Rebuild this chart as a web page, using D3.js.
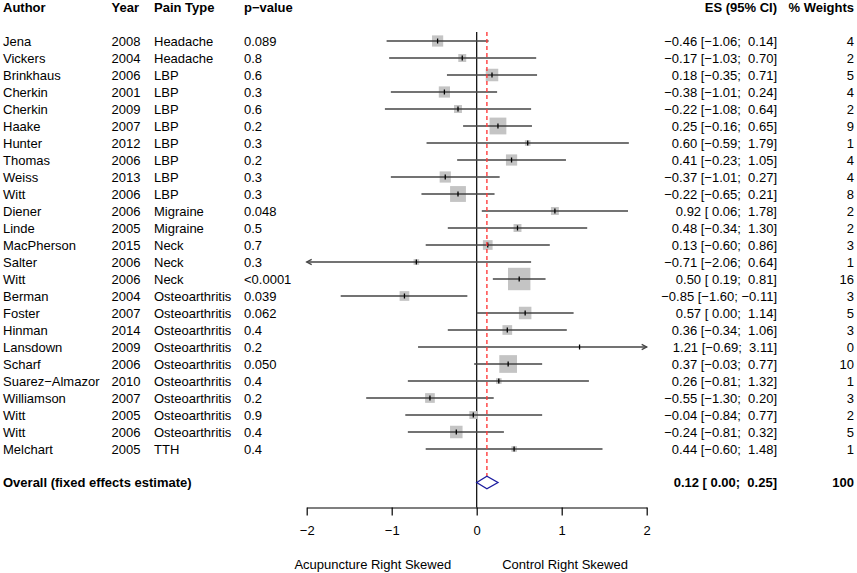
<!DOCTYPE html>
<html>
<head>
<meta charset="utf-8">
<script src="https://cdn.jsdelivr.net/npm/d3@7"></script>
<style>
  body { margin: 0; background: #fff; }
  svg text { font-family: "Liberation Sans", Arial, sans-serif; font-size: 13px; fill: #000; white-space: pre; }
</style>
</head>
<body>
<svg id="chart" width="857" height="573"></svg>
<script>
const authors = ['Jena', 'Vickers', 'Brinkhaus', 'Cherkin', 'Cherkin', 'Haake', 'Hunter', 'Thomas', 'Weiss', 'Witt',
  'Diener', 'Linde', 'MacPherson', 'Salter', 'Witt', 'Berman', 'Foster', 'Hinman', 'Lansdown', 'Scharf',
  'Suarez\u2212Almazor', 'Williamson', 'Witt', 'Witt', 'Melchart'];
const years = [2008, 2004, 2006, 2001, 2009, 2007, 2012, 2006, 2013, 2006,
  2006, 2005, 2015, 2006, 2006, 2004, 2007, 2014, 2009, 2006,
  2010, 2007, 2005, 2006, 2005];
const painTypes = ['Headache', 'Headache', 'LBP', 'LBP', 'LBP', 'LBP', 'LBP', 'LBP', 'LBP', 'LBP',
  'Migraine', 'Migraine', 'Neck', 'Neck', 'Neck', 'Osteoarthritis', 'Osteoarthritis', 'Osteoarthritis',
  'Osteoarthritis', 'Osteoarthritis', 'Osteoarthritis', 'Osteoarthritis', 'Osteoarthritis', 'Osteoarthritis', 'TTH'];
const pValues = ['0.089', '0.8', '0.6', '0.3', '0.6', '0.2', '0.3', '0.2', '0.3', '0.3',
  '0.048', '0.5', '0.7', '0.3', '<0.0001', '0.039', '0.062', '0.4', '0.2', '0.050',
  '0.4', '0.2', '0.9', '0.4', '0.4'];
const es = [-0.46, -0.17, 0.18, -0.38, -0.22, 0.25, 0.60, 0.41, -0.37, -0.22,
  0.92, 0.48, 0.13, -0.71, 0.50, -0.85, 0.57, 0.36, 1.21, 0.37,
  0.26, -0.55, -0.04, -0.24, 0.44];
const lower = [-1.06, -1.03, -0.35, -1.01, -1.08, -0.16, -0.59, -0.23, -1.01, -0.65,
  0.06, -0.34, -0.60, -2.06, 0.19, -1.60, 0.00, -0.34, -0.69, -0.03,
  -0.81, -1.30, -0.84, -0.81, -0.60];
const upper = [0.14, 0.70, 0.71, 0.24, 0.64, 0.65, 1.79, 1.05, 0.27, 0.21,
  1.78, 1.30, 0.86, 0.64, 0.81, -0.11, 1.14, 1.06, 3.11, 0.77,
  1.32, 0.20, 0.77, 0.32, 1.48];
const weights = [4, 2, 5, 4, 2, 9, 1, 4, 4, 8,
  2, 2, 3, 1, 16, 3, 5, 3, 0, 10,
  1, 3, 2, 5, 1];
const overall = { label: 'Overall (fixed effects estimate)', es: 0.12, lower: 0.00, upper: 0.25, weight: 100 };
const xTicks = [-2, -1, 0, 1, 2];
const headers = ['Author', 'Year', 'Pain Type', 'p\u2212value', 'ES (95% CI)', '% Weights'];
const axisLabels = ['Acupuncture Right Skewed', 'Control Right Skewed'];

const svg = d3.select('#chart');

const x = d3.scaleLinear().domain([-2, 2]).range([306.7, 646.7]);
const y = d3.scaleLinear().domain([0, authors.length - 1]).range([41, 449]);
const overallY = 482.5;
const axisY = 507.5;

const col = { author: 3, year: 111.5, pain: 154, p: 244, esRight: 777, wRight: 854 };
const base = 4.6; // shift from row center to text baseline

function fmt(v) {
  const s = Math.abs(v).toFixed(2);
  return v < 0 ? '\u2212' + s : ' ' + s;
}
function ciLabel(e, lo, hi) {
  return fmt(e).trim() + ' [' + fmt(lo) + '; ' + fmt(hi) + ']';
}

// headers
const hdr = svg.append('g').style('font-weight', 'bold');
const hx = [col.author, col.year, col.pain, col.p];
hx.forEach((hxv, i) => {
  hdr.append('text').attr('x', hxv).attr('y', 7.5 + base).text(headers[i]);
});
hdr.append('text').attr('x', col.esRight).attr('y', 7.5 + base).attr('text-anchor', 'end').text(headers[4]);
hdr.append('text').attr('x', col.wRight).attr('y', 7.5 + base).attr('text-anchor', 'end').text(headers[5]);

// study text rows
const rows = svg.append('g').selectAll('g').data(authors).join('g')
  .attr('transform', (d, i) => `translate(0,${y(i) + base})`);
rows.append('text').attr('x', col.author).text((d) => d);
rows.append('text').attr('x', col.year).text((d, i) => years[i]);
rows.append('text').attr('x', col.pain).text((d, i) => painTypes[i]);
rows.append('text').attr('x', col.p).text((d, i) => pValues[i]);
rows.append('text').attr('x', col.esRight).attr('text-anchor', 'end')
  .text((d, i) => ciLabel(es[i], lower[i], upper[i]));
rows.append('text').attr('x', col.wRight).attr('text-anchor', 'end').text((d, i) => weights[i]);

// overall row text
const ov = svg.append('g').style('font-weight', 'bold');
ov.append('text').attr('x', col.author).attr('y', overallY + base).text(overall.label);
ov.append('text').attr('x', col.esRight).attr('y', overallY + base).attr('text-anchor', 'end')
  .text(ciLabel(overall.es, overall.lower, overall.upper));
ov.append('text').attr('x', col.wRight).attr('y', overallY + base).attr('text-anchor', 'end').text(overall.weight);

// reference line at zero
svg.append('line')
  .attr('x1', x(0)).attr('x2', x(0)).attr('y1', 32).attr('y2', axisY)
  .attr('stroke', '#000').attr('stroke-width', 1.2);

// squares
const plot = svg.append('g');
const [xmin, xmax] = x.domain();
plot.selectAll('rect.sq').data(es).join('rect')
  .attr('class', 'sq')
  .attr('x', (d, i) => x(d) - 2.8 * Math.sqrt(weights[i]))
  .attr('y', (d, i) => y(i) - 2.8 * Math.sqrt(weights[i]))
  .attr('width', (d, i) => 5.6 * Math.sqrt(weights[i]))
  .attr('height', (d, i) => 5.6 * Math.sqrt(weights[i]))
  .attr('fill', '#c4c4c4');

// CI lines
plot.selectAll('line.ci').data(es).join('line')
  .attr('class', 'ci')
  .attr('x1', (d, i) => x(Math.max(lower[i], xmin)))
  .attr('x2', (d, i) => x(Math.min(upper[i], xmax)))
  .attr('y1', (d, i) => y(i)).attr('y2', (d, i) => y(i))
  .attr('stroke', '#444').attr('stroke-width', 1.3);

// arrows for CIs beyond the axis range
const arrowPath = (xe, yc, dir) => `M${xe - dir * 5},${yc - 2.6}L${xe},${yc}L${xe - dir * 5},${yc + 2.6}`;
es.forEach((d, i) => {
  if (lower[i] < xmin) {
    plot.append('path').attr('d', arrowPath(x(xmin), y(i), -1))
      .attr('fill', 'none').attr('stroke', '#444').attr('stroke-width', 1.3);
  }
  if (upper[i] > xmax) {
    plot.append('path').attr('d', arrowPath(x(xmax), y(i), 1))
      .attr('fill', 'none').attr('stroke', '#444').attr('stroke-width', 1.3);
  }
});

// point estimate ticks
plot.selectAll('line.pt').data(es).join('line')
  .attr('class', 'pt')
  .attr('x1', (d) => x(d)).attr('x2', (d) => x(d))
  .attr('y1', (d, i) => y(i) - 2.5).attr('y2', (d, i) => y(i) + 2.5)
  .attr('stroke', '#000').attr('stroke-width', 1.3);

// overall estimate dashed line
svg.append('line')
  .attr('x1', x(overall.es)).attr('x2', x(overall.es))
  .attr('y1', 32).attr('y2', overallY - 6.3)
  .attr('stroke', '#ff3c3c').attr('stroke-width', 1.4)
  .attr('stroke-dasharray', '4,3');

// overall diamond
svg.append('path')
  .attr('d', `M${x(overall.lower)},${overallY}L${x(overall.es)},${overallY - 6.3}`
    + `L${x(overall.upper)},${overallY}L${x(overall.es)},${overallY + 6.3}Z`)
  .attr('fill', '#fff').attr('stroke', '#1c1ca0').attr('stroke-width', 1.3);

// x axis
const axis = svg.append('g')
  .attr('transform', `translate(0,${axisY})`)
  .call(d3.axisBottom(x).tickValues(xTicks).tickFormat(d3.format('d'))
    .tickSize(8).tickPadding(10).tickSizeOuter(0));
axis.select('.domain').attr('stroke', '#000').attr('stroke-width', 1.2);
axis.selectAll('.tick line').attr('stroke', '#000').attr('stroke-width', 1.2);
axis.selectAll('.tick text')
  .style('font-family', '"Liberation Sans", Arial, sans-serif')
  .style('font-size', '13px').attr('fill', '#000');

// axis side labels
svg.append('text').attr('x', x(-0.3)).attr('y', 564 + base).attr('text-anchor', 'end').text(axisLabels[0]);
svg.append('text').attr('x', x(0.3)).attr('y', 564 + base).attr('text-anchor', 'start').text(axisLabels[1]);
</script>
</body>
</html>
